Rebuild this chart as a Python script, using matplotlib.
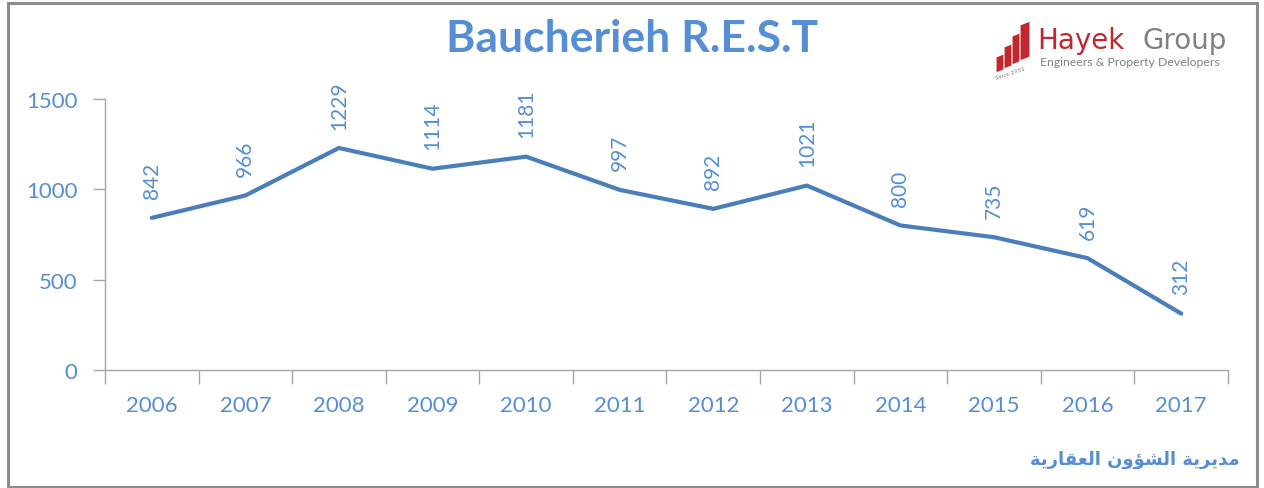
import matplotlib.pyplot as plt
from matplotlib.patches import Rectangle, Polygon

# ------------------------------
# Data
# ------------------------------
years = ["2006", "2007", "2008", "2009", "2010", "2011",
         "2012", "2013", "2014", "2015", "2016", "2017"]
values = [842, 966, 1229, 1114, 1181, 997, 892, 1021, 800, 735, 619, 312]
y_ticks = [0, 500, 1000, 1500]

title = "Baucherieh R.E.S.T"
# "مديرية الشؤون العقارية" in shaped presentation forms, visual order
source = "\ufe94\ufef3\ufead\ufe8e\ufed8\ufecc\ufedf\ufe8d \ufee5\ufeed\ufe86\ufeb8\ufedf\ufe8d \ufe94\ufef3\ufeae\ufef3\ufeaa\ufee3"

blue_txt = "#558ED5"
blue_line = "#4A7EBB"
axis_gray = "#A6A6A6"

W, H = 1264, 489
fig = plt.figure(figsize=(W / 100, H / 100), dpi=100)
ax = fig.add_axes([105 / W, 1 - 371 / H, (1228 - 105) / W, (371 - 100) / H])

x = list(range(len(years)))
ax.plot(x, values, color=blue_line, lw=3, solid_capstyle="round", solid_joinstyle="round")

for xi, v in zip(x, values):
    ax.annotate(str(v), (xi, v), xytext=(0, 14), textcoords="offset points",
                rotation=90, ha="center", va="bottom", color=blue_txt,
                fontsize=15, family="Lato")

ax.set_xlim(-0.5, len(years) - 0.5)
ax.set_ylim(0, 1500)

# category boundaries get tick marks, labels sit at the centres
ax.set_xticks([i - 0.5 for i in range(len(years) + 1)])
ax.set_xticklabels([])
ax.set_xticks(x, minor=True)
ax.set_xticklabels(years, minor=True)
ax.tick_params(axis="x", which="major", length=10, width=1, color=axis_gray, direction="out")
ax.tick_params(axis="x", which="minor", length=0, pad=18, labelsize=16, labelcolor=blue_txt)

ax.set_yticks(y_ticks)
ax.tick_params(axis="y", length=9, width=1, color=axis_gray, direction="out",
               pad=11, labelsize=16, labelcolor=blue_txt)
for lbl in ax.get_xticklabels(minor=True) + ax.get_yticklabels():
    lbl.set_family("Lato")

for s in ["top", "right"]:
    ax.spines[s].set_visible(False)
for s in ["left", "bottom"]:
    ax.spines[s].set_color(axis_gray)
    ax.spines[s].set_linewidth(1)

# title
fig.text(632 / W, 1 - 39 / H, title, ha="center", va="center", fontsize=32,
         fontweight="bold", color=blue_txt, family="Lato")

# source text (bottom right)
fig.text(1240 / W, 1 - 460 / H, source, ha="right", va="center", fontsize=13,
         fontweight="bold", color=blue_txt, family="DejaVu Sans")

# logo
fig.text(1037 / W, 1 - 41 / H, "Hayek", ha="left", va="center", fontsize=20,
         color="#C1272D", family="DejaVu Sans")
fig.text(1143 / W, 1 - 41 / H, "Group", ha="left", va="center", fontsize=20,
         color="#808080", family="DejaVu Sans")
fig.text(1040 / W, 1 - 62 / H, "Engineers & Property Developers", ha="left", va="center",
         fontsize=8.8, color="#808080", family="Lato")


def px(xp, yp):
    return (xp / W, 1 - yp / H)


bars = [(996, 54, 74), (1004, 44, 70), (1012, 33, 66), (1020, 22, 62)]
for bx, top, bot in bars:
    pts = [px(bx, top + 4), px(bx + 10, top), px(bx + 10, bot - 4), px(bx, bot)]
    fig.patches.append(Polygon(pts, closed=True, transform=fig.transFigure,
                               facecolor="#C1272D", edgecolor="white", lw=0.8))
fig.text(1010 / W, 1 - 74 / H, "Since 1951", ha="center", va="center", fontsize=4.5,
         rotation=18, color="#808080", family="Lato")

# outer frame
fig.patches.append(Rectangle((8 / W, 1 - 488 / H), (1257 - 8) / W, (488 - 4) / H,
                             transform=fig.transFigure, fill=False,
                             edgecolor="#8C8C8C", lw=2.2))

fig.savefig("out.png", dpi=100)
